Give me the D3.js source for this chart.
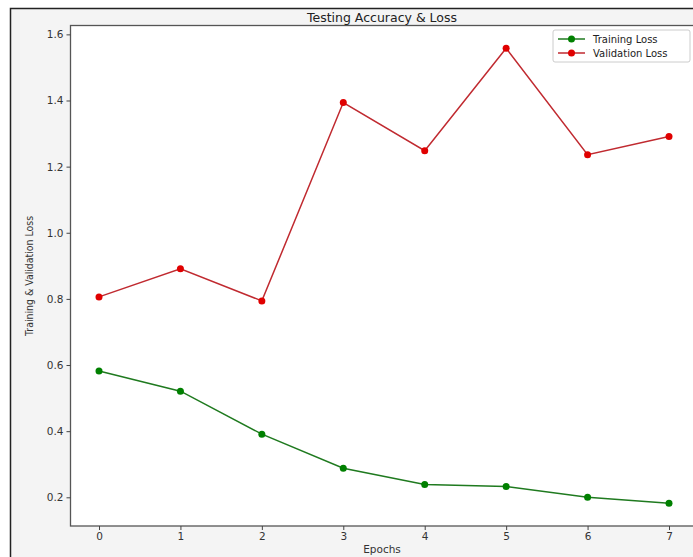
<!DOCTYPE html>
<html><head><meta charset="utf-8">
<script src="https://cdn.jsdelivr.net/npm/d3@7"></script>
<style>body{margin:0;background:#fff;}svg{display:block;}</style>
</head><body>
<svg id="c" width="693" height="557"></svg>
<script>
const epochs = [0, 1, 2, 3, 4, 5, 6, 7];
const trainingLoss = [0.582, 0.521, 0.391, 0.288, 0.239, 0.233, 0.200, 0.182];
const validationLoss = [0.806, 0.891, 0.794, 1.394, 1.248, 1.558, 1.236, 1.291];
const yTicks = [0.2, 0.4, 0.6, 0.8, 1.0, 1.2, 1.4, 1.6];
const seriesNames = ["Training Loss", "Validation Loss"];
const seriesColors = ["#008000", "#e00000"];
const lineColors = ["#1f7a1f", "#c02a30"];

const svg = d3.select("#c");
const font = "DejaVu Sans, sans-serif";
svg.append("rect").attr("x",0).attr("y",0).attr("width",693).attr("height",557).attr("fill","#ffffff");
svg.append("rect").attr("x",10.5).attr("y",8.5).attr("width",700).attr("height",560)
  .attr("fill","#f4f4f4").attr("stroke","#222").attr("stroke-width",1.5);

const L = 70.5, R = 697.5, T = 25.5, B = 526;
const x = d3.scaleLinear().domain([-0.35, 7.35]).range([L, R]);
const y = d3.scaleLinear().domain([0.1132, 1.6268]).range([B, T]);

svg.append("rect").attr("x",L).attr("y",T).attr("width",R-L).attr("height",B-T)
  .attr("fill","#fff").attr("stroke","#555").attr("stroke-width",1.3);

const xAxis = svg.append("g").attr("transform",`translate(0,${B})`)
  .call(d3.axisBottom(x).tickValues(epochs).tickFormat(d3.format("d")).tickSize(4).tickPadding(3));
const yAxis = svg.append("g").attr("transform",`translate(${L},0)`)
  .call(d3.axisLeft(y).tickValues(yTicks).tickFormat(d3.format(".1f")).tickSize(4).tickPadding(3));
[xAxis, yAxis].forEach(g => {
  g.select(".domain").remove();
  g.selectAll("line").attr("stroke","#444");
  g.selectAll("text").attr("font-family",font).attr("font-size",10.5).attr("fill","#333");
});

svg.append("text").attr("x",382).attr("y",22).attr("text-anchor","middle")
  .attr("font-family",font).attr("font-size",12.5).attr("fill","#222").text("Testing Accuracy & Loss");
svg.append("text").attr("x",382).attr("y",553).attr("text-anchor","middle")
  .attr("font-family",font).attr("font-size",10.5).attr("fill","#333").text("Epochs");
svg.append("text").attr("transform","translate(33,276) rotate(-90)").attr("text-anchor","middle")
  .attr("font-family",font).attr("font-size",11).attr("fill","#333")
  .attr("textLength",120).attr("lengthAdjust","spacingAndGlyphs").text("Training & Validation Loss");

const series = [trainingLoss, validationLoss];
const line = d3.line().x((d,i)=>x(epochs[i])).y(d=>y(d));
series.forEach((s, k) => {
  svg.append("path").datum(s).attr("d", line).attr("fill","none")
    .attr("stroke", lineColors[k]).attr("stroke-width",1.5);
  svg.selectAll(null).data(s).enter().append("circle")
    .attr("cx",(d,i)=>x(epochs[i])).attr("cy",d=>y(d)).attr("r",3.5).attr("fill",seriesColors[k]);
});

const lg = svg.append("g");
lg.append("rect").attr("x",553).attr("y",30).attr("width",137).attr("height",32).attr("rx",2)
  .attr("fill","#fff").attr("stroke","#ccc");
seriesNames.forEach((n,k) => {
  const yy = 39 + k*14;
  lg.append("line").attr("x1",558).attr("x2",585).attr("y1",yy).attr("y2",yy)
    .attr("stroke",lineColors[k]).attr("stroke-width",1.5);
  lg.append("circle").attr("cx",571.5).attr("cy",yy).attr("r",3.5).attr("fill",seriesColors[k]);
  lg.append("text").attr("x",593).attr("y",yy+3.5).attr("font-family",font).attr("font-size",10)
    .attr("fill","#222").text(n);
});
</script>
</body></html>
